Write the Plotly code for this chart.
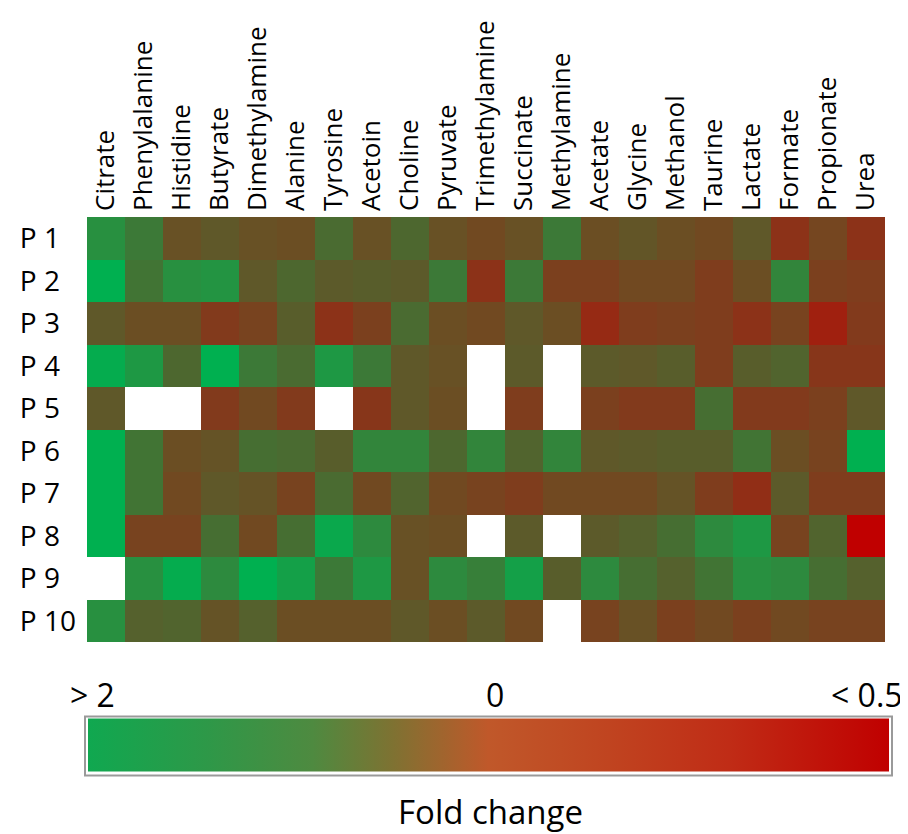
import plotly.graph_objects as go

metabolites = ["Citrate", "Phenylalanine", "Histidine", "Butyrate", "Dimethylamine",
               "Alanine", "Tyrosine", "Acetoin", "Choline", "Pyruvate",
               "Trimethylamine", "Succinate", "Methylamine", "Acetate", "Glycine",
               "Methanol", "Taurine", "Lactate", "Formate", "Propionate", "Urea"]
patients = ["P 1", "P 2", "P 3", "P 4", "P 5", "P 6", "P 7", "P 8", "P 9", "P 10"]
patient_ticktext = ["P 1\u2007", "P 2\u2007", "P 3\u2007", "P 4\u2007", "P 5\u2007",
                    "P 6\u2007", "P 7\u2007", "P 8\u2007", "P 9\u2007", "P 10"]

# relative fold-change score: -1 (> 2, green) ... 0 ... +1 (< 0.5, red); None = not detected
p1 = [-0.6, -0.4, 0.2, 0.05, 0.2, 0.25, -0.25, 0.2, -0.2, 0.2, 0.35, 0.2, -0.4, 0.25, 0.1, 0.25, 0.35, 0.05, 0.7, 0.4, 0.7]
p2 = [-1, -0.35, -0.6, -0.65, 0.05, -0.2, 0, -0.05, 0, -0.4, 0.7, -0.4, 0.5, 0.5, 0.35, 0.35, 0.55, 0.25, -0.5, 0.5, 0.55]
p3 = [0.05, 0.25, 0.25, 0.6, 0.45, -0.05, 0.7, 0.5, -0.25, 0.25, 0.35, 0.05, 0.25, 0.8, 0.55, 0.5, 0.55, 0.7, 0.45, 0.85, 0.6]
p4 = [-0.95, -0.7, -0.2, -1, -0.4, -0.25, -0.7, -0.4, 0.05, 0.2, None, 0, None, 0, 0.05, -0.05, 0.55, -0.05, -0.15, 0.65, 0.65]
p5 = [0.05, None, None, 0.6, 0.35, 0.6, None, 0.65, 0.05, 0.25, None, 0.55, None, 0.5, 0.6, 0.6, -0.3, 0.6, 0.6, 0.5, 0.05]
p6 = [-1, -0.35, 0.25, 0.15, -0.3, -0.25, -0.05, -0.5, -0.5, -0.2, -0.5, -0.15, -0.5, 0.05, 0, -0.05, -0.05, -0.35, 0.25, 0.45, -1]
p7 = [-1, -0.35, 0.35, 0.05, 0.15, 0.45, -0.25, 0.35, -0.15, 0.35, 0.45, 0.55, 0.35, 0.35, 0.35, 0.15, 0.55, 0.75, 0, 0.55, 0.55]
p8 = [-1, 0.45, 0.45, -0.3, 0.35, -0.3, -0.9, -0.55, 0.2, 0.25, None, 0, None, 0, -0.1, -0.3, -0.55, -0.7, 0.45, -0.15, 1]
p9 = [None, -0.6, -0.95, -0.55, -1, -0.8, -0.4, -0.7, 0.2, -0.55, -0.45, -0.8, -0.05, -0.55, -0.3, -0.1, -0.35, -0.6, -0.55, -0.3, -0.1]
p10 = [-0.6, -0.1, -0.15, 0.15, -0.1, 0.25, 0.25, 0.25, 0.05, 0.25, 0, 0.35, None, 0.45, 0.2, 0.5, 0.35, 0.5, 0.35, 0.45, 0.45]

legend_ticks = ["> 2", "0", "< 0.5"]
legend_title = "Fold change"

z = [p1, p2, p3, p4, p5, p6, p7, p8, p9, p10]

cell_scale = [
    [0.0, "#00b050"],
    [0.2, "#289040"],
    [0.35, "#466e32"],
    [0.5, "#5c5a2a"],
    [0.65, "#6e4c22"],
    [0.8, "#823a1c"],
    [0.9, "#962a14"],
    [1.0, "#c00000"],
]
bar_scale = [
    [0.0, "#10a850"],
    [0.15, "#2e9848"],
    [0.28, "#4e8a40"],
    [0.38, "#7e7232"],
    [0.5, "#c0582a"],
    [0.65, "#c04420"],
    [0.8, "#c02c16"],
    [1.0, "#c00000"],
]

FONT = "Open Sans, Lato, sans-serif"

fig = go.Figure()
fig.add_trace(go.Heatmap(
    z=z, x=metabolites, y=patients,
    colorscale=cell_scale, zmin=-1, zmax=1,
    showscale=False, xgap=0, ygap=0, hoverongaps=False,
))
fig.add_trace(go.Scatter(
    x=[None], y=[None], mode="markers", showlegend=False, hoverinfo="skip",
    marker=dict(
        color=[0], colorscale=bar_scale, cmin=-1, cmax=1, showscale=True,
        colorbar=dict(
            orientation="h", x=0.503, xanchor="center", y=-0.245, yanchor="middle",
            xref="paper", yref="paper",
            lenmode="pixels", len=805, thicknessmode="pixels", thickness=53,
            outlinewidth=0, bordercolor="#9a9a9a", borderwidth=2,
            xpad=2, ypad=2, showticklabels=False, ticks="",
        ),
    ),
))

ann_font = dict(family=FONT, size=32, color="black")
fig.add_annotation(text=legend_ticks[0], x=-0.024, y=-0.124, xref="paper", yref="paper",
                   xanchor="left", yanchor="middle", showarrow=False, font=ann_font)
fig.add_annotation(text=legend_ticks[1], x=0.511, y=-0.124, xref="paper", yref="paper",
                   xanchor="center", yanchor="middle", showarrow=False, font=ann_font)
fig.add_annotation(text=legend_ticks[2], x=1.025, y=-0.124, xref="paper", yref="paper",
                   xanchor="right", yanchor="middle", showarrow=False, font=ann_font)
fig.add_annotation(text=legend_title, x=0.506, y=-0.399, xref="paper", yref="paper",
                   xanchor="center", yanchor="middle", showarrow=False,
                   font=dict(family=FONT, size=33, color="black"))

# the page body adds an 8px offset, so the figure is 8px smaller than the window
fig.update_layout(
    width=900, height=826,
    margin=dict(l=76, r=23, t=208, b=192, pad=0),
    paper_bgcolor="white", plot_bgcolor="white",
    font=dict(family=FONT, color="black"),
    xaxis=dict(side="top", tickangle=-90, showgrid=False, zeroline=False, ticks="",
               tickfont=dict(family=FONT, size=26, color="black"),
               ticklabelstandoff=5, showline=False),
    yaxis=dict(autorange="reversed", showgrid=False, zeroline=False, ticks="",
               tickvals=patients, ticktext=patient_ticktext,
               tickfont=dict(family=FONT, size=28, color="black"),
               ticklabelstandoff=10, showline=False),
)

fig.write_html("out.html", config={"displayModeBar": False})
